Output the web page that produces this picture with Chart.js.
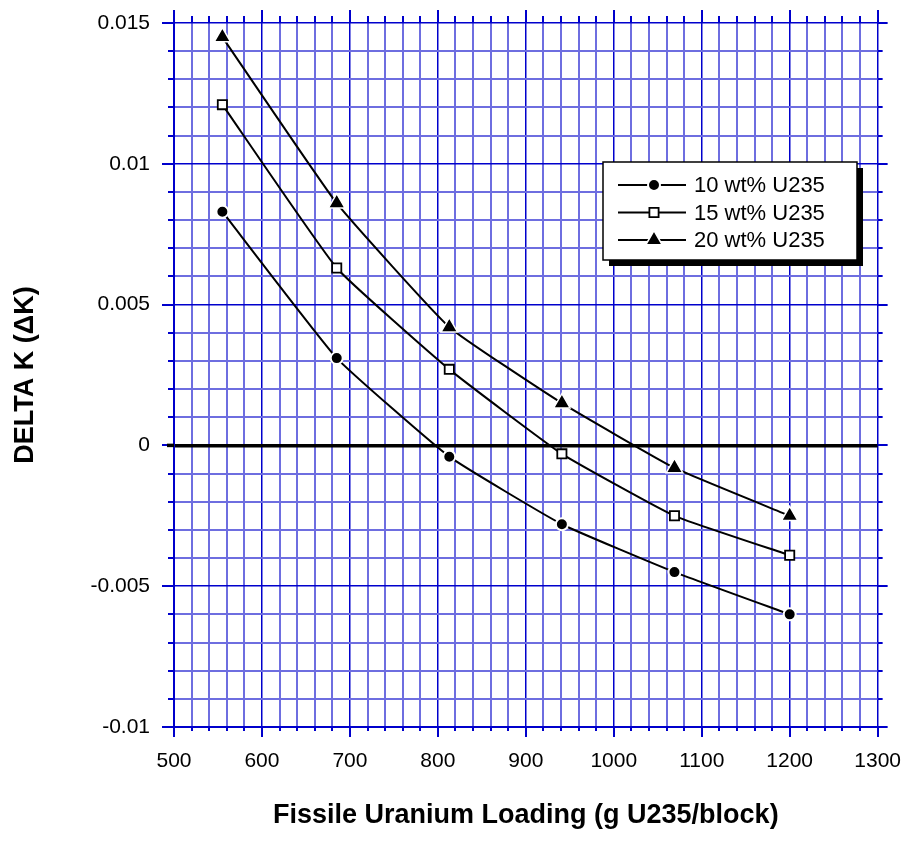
<!DOCTYPE html>
<html>
<head>
<meta charset="utf-8">
<script src="https://cdn.jsdelivr.net/npm/chart.js@4.4.0/dist/chart.umd.min.js"></script>
<style>
html, body { margin: 0; padding: 0; background: #fff; }
#wrap { width: 901px; height: 846px; }
</style>
</head>
<body>
<div id="wrap"><canvas id="grafica" width="901" height="846"></canvas></div>
<script>
// Carga de uranio fisil (g U235/bloque)
var cargas = [555, 685, 813, 941, 1069, 1200];
// Delta K para cada enriquecimiento
var delta10 = [0.0083, 0.0031, -0.0004, -0.0028, -0.0045, -0.0060];
var delta15 = [0.0121, 0.0063, 0.0027, -0.0003, -0.0025, -0.0039];
var delta20 = [0.0145, 0.0086, 0.0042, 0.0015, -0.0008, -0.0025];
var series = ["10 wt% U235", "15 wt% U235", "20 wt% U235"];
// Etiquetas de los ejes
var ticksX = [500, 600, 700, 800, 900, 1000, 1100, 1200, 1300];
var ticksY = [-0.01, -0.005, 0, 0.005, 0.01, 0.015];

var AZUL = "#0000cc";
var LILA = "#6e6ee0";
var FUENTE = "'Liberation Sans', Arial, Helvetica, sans-serif";

// Revisa si un valor cae sobre una division mayor
function esMayor(valor, lista){
    for(var i = 0; i < lista.length; i++){
        if(Math.abs(valor - lista[i]) < 1e-9) return true;
    }
    return false;
}

function puntos(ys){
    return cargas.map(function(x, i){ return {x: x, y: ys[i]}; });
}

// Dibuja las marcas de los ejes (por fuera del area)
var marcas = {
    id: "marcas",
    afterDraw: function(chart){
        var ctx = chart.ctx;
        var a = chart.chartArea;
        var sx = chart.scales.x;
        var sy = chart.scales.y;
        ctx.save();
        ctx.strokeStyle = AZUL;
        ctx.lineWidth = 2;
        ctx.beginPath();
        sx.ticks.forEach(function(t){
            var px = Math.round(sx.getPixelForValue(t.value));
            var m = esMayor(t.value, ticksX);
            ctx.moveTo(px, a.bottom);
            ctx.lineTo(px, a.bottom + (m ? 10 : 4));
            ctx.moveTo(px, a.top);
            ctx.lineTo(px, a.top - (m ? 13 : 7));
        });
        sy.ticks.forEach(function(t){
            var py = Math.round(sy.getPixelForValue(t.value));
            var m = esMayor(t.value, ticksY);
            ctx.moveTo(a.left, py);
            ctx.lineTo(a.left - (m ? 12 : 6), py);
            ctx.moveTo(a.right, py);
            ctx.lineTo(a.right + (m ? 10 : 5), py);
        });
        ctx.stroke();
        // Linea del cero
        var y0 = sy.getPixelForValue(0);
        ctx.strokeStyle = "#000";
        ctx.lineWidth = 3.5;
        ctx.beginPath();
        ctx.moveTo(a.left - 7, y0);
        ctx.lineTo(a.left, y0);
        ctx.stroke();
        ctx.restore();
    }
};

// Leyenda con sombra dentro del area de la grafica
var leyenda = {
    id: "leyenda",
    afterDraw: function(chart){
        var ctx = chart.ctx;
        var x = 603, y = 162, w = 254, h = 98;
        ctx.save();
        ctx.fillStyle = "#000";
        ctx.fillRect(x + 6, y + 6, w, h);
        ctx.fillStyle = "#fff";
        ctx.fillRect(x, y, w, h);
        ctx.strokeStyle = "#000";
        ctx.lineWidth = 1.5;
        ctx.strokeRect(x, y, w, h);
        chart.data.datasets.forEach(function(ds, i){
            var cy = y + 23 + i * 27.5;
            ctx.strokeStyle = "#000";
            ctx.lineWidth = 2;
            ctx.beginPath();
            ctx.moveTo(x + 15, cy);
            ctx.lineTo(x + 83, cy);
            ctx.stroke();
            ctx.fillStyle = ds.pointBackgroundColor;
            ctx.strokeStyle = ds.pointBorderColor;
            ctx.lineWidth = ds.pointBorderWidth;
            Chart.helpers.drawPoint(ctx, {
                pointStyle: ds.pointStyle,
                radius: ds.pointRadius,
                borderWidth: ds.pointBorderWidth,
                rotation: 0
            }, x + 51, cy);
            ctx.fillStyle = "#000";
            ctx.font = "22px " + FUENTE;
            ctx.textBaseline = "middle";
            ctx.textAlign = "left";
            ctx.fillText(ds.label, x + 91, cy + 1);
        });
        ctx.restore();
    }
};

var estilos = [
    {pointStyle: "circle", pointRadius: 6, pointBackgroundColor: "#000", pointBorderColor: "#fff", pointBorderWidth: 2},
    {pointStyle: "rect", pointRadius: 6.5, pointBackgroundColor: "#fff", pointBorderColor: "#000", pointBorderWidth: 1.8},
    {pointStyle: "triangle", pointRadius: 9.5, pointBackgroundColor: "#000", pointBorderColor: "#fff", pointBorderWidth: 1.5}
];
var valores = [delta10, delta15, delta20];

var datasets = series.map(function(nombre, i){
    var e = estilos[i];
    return {
        label: nombre,
        data: puntos(valores[i]),
        borderColor: "#000",
        borderWidth: 2,
        tension: 0.12,
        fill: false,
        pointStyle: e.pointStyle,
        pointRadius: e.pointRadius,
        pointBackgroundColor: e.pointBackgroundColor,
        pointBorderColor: e.pointBorderColor,
        pointBorderWidth: e.pointBorderWidth
    };
});

var grafica = new Chart(document.getElementById("grafica"), {
    type: "line",
    data: {datasets: datasets},
    options: {
        responsive: false,
        devicePixelRatio: 1,
        animation: false,
        events: [],
        layout: {padding: {left: 9, top: 23, right: 23, bottom: 10}},
        plugins: {
            legend: {display: false},
            tooltip: {enabled: false}
        },
        scales: {
            x: {
                type: "linear",
                min: ticksX[0],
                max: ticksX[ticksX.length - 1],
                afterFit: function(s){ s.height = 846 - 727 - 10; },
                ticks: {
                    stepSize: 20,
                    autoSkip: false,
                    maxRotation: 0,
                    padding: 0,
                    color: "#000",
                    font: {family: FUENTE, size: 21},
                    callback: function(v){ return esMayor(v, ticksX) ? String(v) : ""; }
                },
                grid: {
                    drawTicks: true,
                    tickLength: 22,
                    tickColor: "rgba(0,0,0,0)",
                    color: function(c){ return (c.tick && esMayor(c.tick.value, ticksX)) ? AZUL : LILA; },
                    lineWidth: function(c){ return (c.tick && esMayor(c.tick.value, ticksX)) ? 1.5 : 2; }
                },
                border: {color: AZUL, width: 2},
                title: {
                    display: true,
                    text: "Fissile Uranium Loading (g U235/block)",
                    color: "#000",
                    font: {family: FUENTE, size: 27, weight: "bold"},
                    padding: {top: 0, bottom: 4}
                }
            },
            y: {
                type: "linear",
                min: ticksY[0],
                max: ticksY[ticksY.length - 1],
                afterFit: function(s){ s.width = 174 - 9; },
                ticks: {
                    stepSize: 0.001,
                    autoSkip: false,
                    padding: 0,
                    color: "#000",
                    font: {family: FUENTE, size: 21},
                    callback: function(v){ return esMayor(v, ticksY) ? String(Number(v.toFixed(4))) : ""; }
                },
                grid: {
                    drawTicks: true,
                    tickLength: 24,
                    tickColor: "rgba(0,0,0,0)",
                    color: function(c){
                        if(!c.tick) return LILA;
                        if(Math.abs(c.tick.value) < 1e-9) return "#000";
                        return esMayor(c.tick.value, ticksY) ? AZUL : LILA;
                    },
                    lineWidth: function(c){
                        if(!c.tick) return 2;
                        if(Math.abs(c.tick.value) < 1e-9) return 3.5;
                        return esMayor(c.tick.value, ticksY) ? 1.5 : 2;
                    }
                },
                border: {color: AZUL, width: 2},
                title: {
                    display: true,
                    text: "DELTA K (ΔK)",
                    color: "#000",
                    font: {family: FUENTE, size: 27, weight: "bold"},
                    padding: {top: 0, bottom: 0}
                }
            }
        }
    },
    plugins: [marcas, leyenda]
});
</script>
</body>
</html>
